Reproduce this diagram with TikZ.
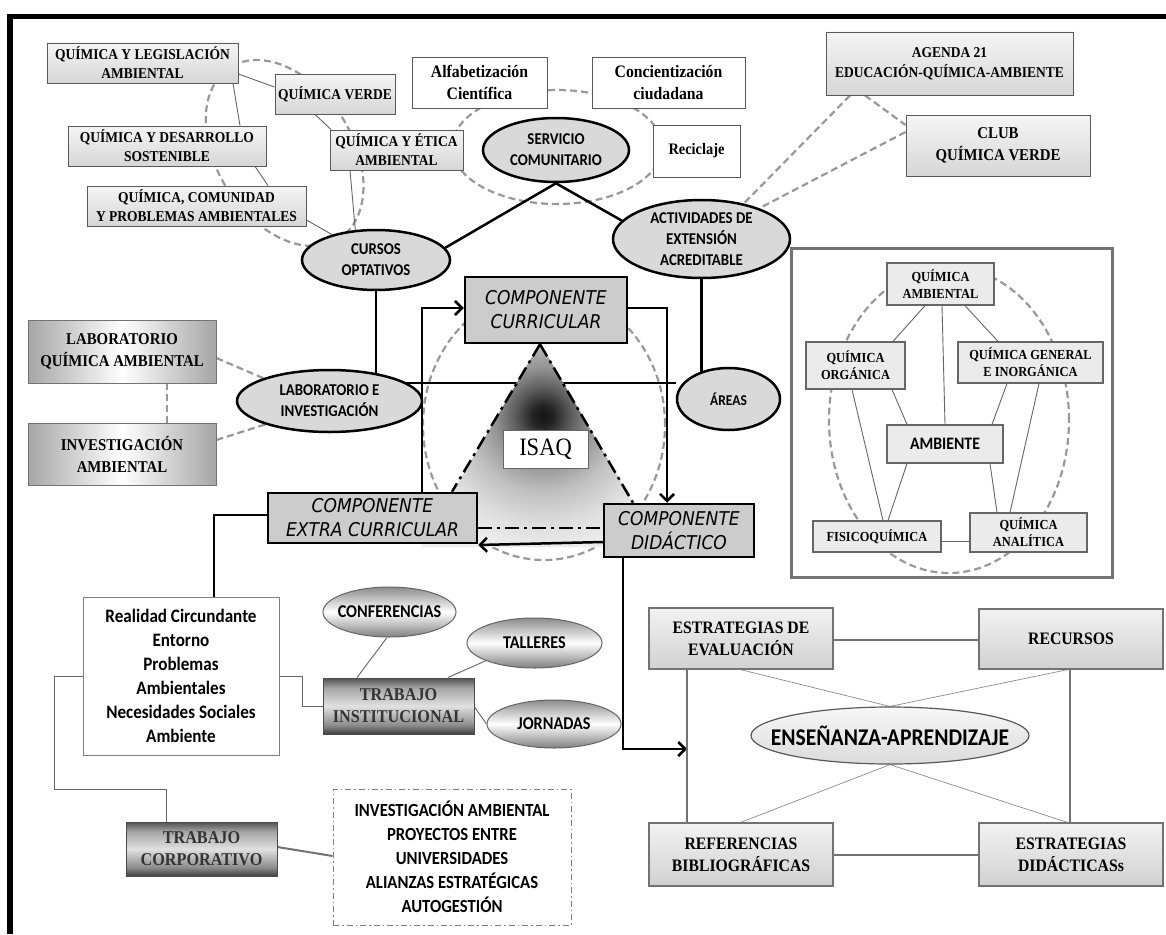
\documentclass[tikz,border=0pt]{standalone}
\usepackage{fontspec}
\setmainfont{Liberation Serif}[FakeStretch=0.9]
\newfontfamily\calib{Carlito}[FakeStretch=0.9]
\newfontfamily\comic{DejaVu Sans}[FakeStretch=0.9]
\usetikzlibrary{shapes.geometric,arrows.meta}
\newcommand\myfs[2]{\fontsize{#1}{#2}\selectfont}
\pgfdeclarelayer{bg}
\pgfsetlayers{bg,main}
\pgfdeclareradialshading{isaqsh}{\pgfpoint{0bp}{0bp}}{color(0bp)=(black!92); color(2bp)=(black!86); color(5bp)=(black!65); color(9bp)=(black!42); color(14bp)=(black!25); color(20bp)=(black!13); color(25bp)=(black!7); color(50bp)=(black!7)}
\pgfdeclareverticalshading{metalv}{100bp}{color(0bp)=(black!75); color(25bp)=(black!75); color(33bp)=(black!45); color(50bp)=(black!12); color(66bp)=(black!35); color(75bp)=(black!68); color(100bp)=(black!68)}
\pgfdeclareverticalshading{ellv}{100bp}{color(0bp)=(black!50); color(25bp)=(black!50); color(50bp)=(white); color(75bp)=(black!45); color(100bp)=(black!45)}
\tikzset{
 every node/.style={inner sep=0pt, align=center},
 lgbox/.style={rectangle, draw=black!65, line width=0.9pt, top color=black!4, bottom color=black!16, font=\bfseries\myfs{15}{19}},
 wbox/.style={rectangle, draw=black!65, line width=0.9pt, fill=white, font=\bfseries\myfs{17.5}{22}},
 sidebox/.style={rectangle, draw=black!55, line width=0.9pt, left color=black!35, right color=black!35, middle color=white, font=\bfseries\myfs{16.5}{22}},
 compbox/.style={rectangle, draw=black, line width=2.5pt, fill=black!20, font=\comic\itshape\myfs{19}{24}},
 mainell/.style={ellipse, draw=black, line width=2.5pt, fill=black!15},
 elltxt/.style={font=\calib\bfseries\myfs{16.5}{21}},
 panbox/.style={rectangle, draw=black!60, line width=1.2pt, fill=black!8, font=\bfseries\myfs{13.8}{17}},
 metalbox/.style={rectangle, draw=black!70, line width=1pt, shade, shading=metalv, font=\bfseries\myfs{18}{22}, text=black!80},
 smell/.style={ellipse, draw=black!60, line width=1pt, shade, shading=ellv},
 smtxt/.style={font=\calib\bfseries\myfs{18}{20}},
 brbox/.style={rectangle, draw=black!55, line width=1.5pt, top color=black!5, bottom color=black!18, font=\bfseries\myfs{17.5}{22}},
 blk/.style={draw=black, line width=2.5pt},
 thinl/.style={draw=black!60, line width=0.9pt},
 xl/.style={draw=black!45, line width=0.7pt},
 dgray/.style={draw=black!40, line width=2.2pt, dash pattern=on 7pt off 4pt},
 gline/.style={draw=black!55, line width=2.5pt},
 arr/.style={-{Straight Barb[length=7pt,width=14pt]}},
 ddline/.style={draw=black, line width=2.5pt, dash pattern=on 14pt off 5pt on 3pt off 5pt},
}
\begin{document}
\begin{tikzpicture}[x=1pt,y=-1pt]
\useasboundingbox (0,0) rectangle (1166,934);

% ---------- top-left cluster
\node[lgbox, minimum width=191pt, minimum height=40pt] (qleg) at (142.5,63) {QUÍMICA Y LEGISLACIÓN\\AMBIENTAL};
\node[lgbox, minimum width=120pt, minimum height=40pt] (qverde) at (335,94) {QUÍMICA VERDE};
\node[lgbox, minimum width=198pt, minimum height=40pt] (qdes) at (167,146) {QUÍMICA Y DESARROLLO\\SOSTENIBLE};
\node[lgbox, minimum width=219pt, minimum height=40pt] (qcom) at (196.5,206) {QUÍMICA, COMUNIDAD\\Y PROBLEMAS AMBIENTALES};
\node[lgbox, minimum width=133pt, minimum height=40pt] (qetica) at (396.5,150) {QUÍMICA Y ÉTICA\\AMBIENTAL};

\node[mainell, minimum width=148pt, minimum height=60pt] (cursos) at (376,260) {};
\node[elltxt] (cursosT) at (cursos) {CURSOS\\OPTATIVOS};
\node[mainell, minimum width=146pt, minimum height=64pt] (servicio) at (556,150) {};
\node[elltxt] (servicioT) at (servicio) {SERVICIO\\COMUNITARIO};
\node[mainell, minimum width=177pt, minimum height=78pt] (act) at (701.5,239) {};
\node[elltxt] (actT) at (act) {ACTIVIDADES DE\\EXTENSIÓN\\ACREDITABLE};

\node[wbox, minimum width=135pt, minimum height=51pt] (alfa) at (479.5,82.5) {Alfabetización\\Científica};
\node[wbox, minimum width=153pt, minimum height=51pt] (conc) at (668.5,82.5) {Concientización\\ciudadana};
\node[wbox, minimum width=87pt, minimum height=52pt, font=\bfseries\myfs{16}{18}] (recic) at (696.5,151) {Reciclaje};

\node[lgbox, minimum width=247pt, minimum height=63pt, font=\bfseries\myfs{15}{20}] (agenda) at (949.5,63.5) {AGENDA 21\\EDUCACIÓN-QUÍMICA-AMBIENTE};
\node[lgbox, minimum width=184pt, minimum height=61pt, font=\bfseries\myfs{16.5}{22}] (club) at (998,145.5) {CLUB\\QUÍMICA VERDE};

% ---------- right panel
\node[draw=black!55, line width=3pt, minimum width=321pt, minimum height=329pt] (panel) at (951.5,412.5) {};
\node[panbox, minimum width=107pt, minimum height=42pt] (qamb) at (940.5,284) {QUÍMICA\\AMBIENTAL};
\node[panbox, minimum width=99pt, minimum height=47pt] (qorg) at (855.5,365.5) {QUÍMICA\\ORGÁNICA};
\node[panbox, minimum width=145pt, minimum height=41pt] (qgen) at (1030.5,362.5) {QUÍMICA GENERAL\\E INORGÁNICA};
\node[panbox, minimum width=116pt, minimum height=38pt, font=\calib\bfseries\myfs{17.5}{19}] (amb) at (945,444) {AMBIENTE};
\node[panbox, minimum width=128pt, minimum height=31pt] (fisico) at (877,536.5) {FISICOQUÍMICA};
\node[panbox, minimum width=117pt, minimum height=39pt] (qanal) at (1028.5,532.5) {QUÍMICA\\ANALÍTICA};

% ---------- left middle
\node[sidebox, minimum width=188pt, minimum height=63pt] (labqa) at (122,351.5) {LABORATORIO\\QUÍMICA AMBIENTAL};
\node[sidebox, minimum width=188pt, minimum height=62pt] (invamb) at (122,454) {INVESTIGACIÓN\\AMBIENTAL};
\node[mainell, minimum width=185pt, minimum height=62pt] (labinv) at (329.5,401) {};
\node[elltxt] (labinvT) at (labinv) {LABORATORIO E\\INVESTIGACIÓN};
\node[mainell, minimum width=103pt, minimum height=62pt] (areas) at (728.5,399) {};
\node[elltxt, font=\calib\bfseries\myfs{15}{17}] (areasT) at (areas) {ÁREAS};

% ---------- components
\node[compbox, minimum width=162pt, minimum height=66pt] (compcur) at (546,310) {COMPONENTE\\CURRICULAR};
\node[compbox, minimum width=209pt, minimum height=50pt] (compextra) at (372.5,518) {COMPONENTE\\EXTRA CURRICULAR};
\node[compbox, minimum width=150pt, minimum height=53pt] (compdid) at (679,530.5) {COMPONENTE\\DIDÁCTICO};
\node[draw=black!60, line width=1pt, fill=white, minimum width=85pt, minimum height=38pt, font=\myfs{25}{27}] (isaq) at (545.5,449) {ISAQ};

% ---------- bottom left
\node[draw=black!50, line width=0.9pt, fill=white, minimum width=196pt, minimum height=158pt, font=\calib\bfseries\myfs{19}{24}] (realidad) at (181,676) {Realidad Circundante\\Entorno\\Problemas\\Ambientales\\Necesidades Sociales\\Ambiente};
\node[metalbox, minimum width=151pt, minimum height=56pt] (trabinst) at (398.5,706) {TRABAJO\\INSTITUCIONAL};
\node[smell, minimum width=133pt, minimum height=50pt] (confer) at (389.5,612) {};
\node[smtxt] (conferT) at (confer) {CONFERENCIAS};
\node[smell, minimum width=135pt, minimum height=50pt] (talleres) at (534.5,643) {};
\node[smtxt] (talleresT) at (talleres) {TALLERES};
\node[smell, minimum width=134pt, minimum height=48pt] (jornadas) at (554,724) {};
\node[smtxt] (jornadasT) at (jornadas) {JORNADAS};
\node[metalbox, minimum width=151pt, minimum height=54pt] (trabcorp) at (201.5,849) {TRABAJO\\CORPORATIVO};
\node[draw=black!50, line width=0.9pt, dash pattern=on 6pt off 3pt on 1.5pt off 3pt, minimum width=238pt, minimum height=136pt, font=\calib\bfseries\myfs{18.5}{24}] (dashbox) at (452,857) {INVESTIGACIÓN AMBIENTAL\\PROYECTOS ENTRE\\UNIVERSIDADES\\ALIANZAS ESTRATÉGICAS\\AUTOGESTIÓN};

% ---------- bottom right
\node[brbox, minimum width=184pt, minimum height=61pt] (evalb) at (741,638.5) {ESTRATEGIAS DE\\EVALUACIÓN};
\node[brbox, minimum width=184pt, minimum height=60pt] (recursos) at (1071,639) {RECURSOS};
\node[brbox, minimum width=184pt, minimum height=63pt] (refs) at (741,854.5) {REFERENCIAS\\BIBLIOGRÁFICAS};
\node[brbox, minimum width=184pt, minimum height=63pt] (estdid) at (1071,854.5) {ESTRATEGIAS\\DIDÁCTICASs};
\node[ellipse, draw=black!65, line width=1.2pt, top color=black!3, bottom color=black!14, minimum width=278pt, minimum height=57pt] (ensap) at (890,735.5) {};
\node[font=\calib\bfseries\myfs{24}{26}] (ensapT) at (ensap) {ENSEÑANZA-APRENDIZAJE};
\coordinate (arrEnd) at (687,749);

% ---------- background layer: dashed groups, connectors, triangle
\begin{pgfonlayer}{bg}
\fill[white] (0,0) rectangle (1166,934);
\draw[dgray, shift={(284.6,153)}, xslant=-0.3] (0,0) ellipse (73.8pt and 93pt);
\draw[dgray] (557,147) ellipse (105pt and 57pt);
\draw[dgray] (949,420) ellipse (120pt and 153pt);
\draw[dgray] (544,425) ellipse (121pt and 135pt);

% top-left thin
\draw[thinl] (qleg.east |- 0,74) -- (qverde.west |- 0,87);
\draw[thinl] (qleg.south -| 233,0) -- (qdes.north -| 240,0);
\draw[thinl] (qverde.south -| 315,0) -- (qetica.north -| 331,0);
\draw[thinl] (qetica.south -| 350,0) -- (cursos.center -| 358,0);
\draw[thinl] (qdes.south -| 255,0) -- (qcom.north -| 268,0);
\draw[thinl] (qcom.east |- 0,220) -- (cursos.150);

% thick black
\draw[blk] (servicio.south) -- (cursos.10);
\draw[blk] (servicio.south) -- (act.167);
\draw[blk] (cursos.south) |- (areas.west |- 0,383);
\draw[blk] (act.south) -- (act.south |- areas.center);
\draw[blk, arr] (compextra.north -| 422,0) |- (compcur.west |- 0,308);
\draw[blk, arr] (compcur.east |- 0,308) -| (compdid.north -| 667,0);
\draw[blk] (compextra.west |- 0,515) -| (realidad.north -| 214,0);
\draw[blk, arr] (compdid.south -| 623,0) |- (arrEnd);

% dashed connectors
\draw[dgray] (labqa.east |- 0,358) -- (labinv.161);
\draw[dgray] (invamb.east |- 0,440) -- (labinv.200);
\draw[dgray] (labqa.south -| 167,0) -- (invamb.north -| 167,0);
\draw[dgray] (agenda.south -| 850,0) -- (act.40);
\draw[dgray] (club.west |- 0,132) -- (act.28);
\draw[dgray] (agenda.south -| 865,0) -- (club.west |- 0,125);

% right panel thin
\draw[thinl] (qamb.south -| 925,0) -- (qorg.north -| 893,0);
\draw[thinl] (qamb.south -| 942,0) -- (amb.north -| 945,0);
\draw[thinl] (qamb.south -| 965,0) -- (qgen.north -| 998,0);
\draw[thinl] (qorg.south -| 892,0) -- (amb.north -| 907,0);
\draw[thinl] (qorg.south -| 852,0) -- (fisico.north -| 883,0);
\draw[thinl] (qgen.south -| 1007,0) -- (amb.north -| 992,0);
\draw[thinl] (qgen.south -| 1039,0) -- (qanal.north -| 1010,0);
\draw[thinl] (amb.south -| 907,0) -- (fisico.north -| 888,0);
\draw[thinl] (amb.south -| 990,0) -- (qanal.north -| 997,0);
\draw[thinl] (fisico.east |- 0,541) -- (qanal.west |- 0,541);

% bottom-left thin
\draw[thinl] (realidad.east |- 0,676) -- ++(23,0) |- (trabinst.west);
\draw[thinl] (confer.south -| 387,0) -- (trabinst.north -| 357,0);
\draw[thinl] (talleres.200) -- (trabinst.north -| 448,0);
\draw[thinl] (trabinst.east |- 0,707) -- (jornadas.west);
\draw[thinl] (realidad.west |- 0,676) -- ++(-28,0) -- ++(0,113) -| (trabcorp.north -| 166,0);
\draw[gline, line width=2pt] (trabcorp.east |- 0,847) -- (dashbox.west |- 0,856);

% bottom-right
\draw[gline] (evalb.east |- 0,640) -- (recursos.west |- 0,640);
\draw[gline] (refs.east |- 0,855) -- (estdid.west |- 0,855);
\draw[gline] (evalb.south -| 687,0) -- (refs.north -| 687,0);
\draw[gline] (recursos.south -| 1070,0) -- (estdid.north -| 1070,0);
\draw[xl] (evalb.south) -- (ensap.north);
\draw[xl] (recursos.south -| 1067,0) -- (ensap.north);
\draw[xl] (ensap.south) -- (refs.north);
\draw[xl] (ensap.south) -- (estdid.north -| 1067,0);

% ISAQ triangle
\fill[black!7] (540,343) -- (421,547) -- (659,547) -- cycle;
\begin{scope}
\clip (540,343) -- (421,547) -- (659,547) -- cycle;
\shade[shading=isaqsh] (543,416) circle (135pt);
\end{scope}
\draw[ddline] (compcur.south -| 540,0) -- (compextra.north -| 452,0);
\draw[ddline] (compcur.south -| 540,0) -- (compdid.north -| 633,0);
\draw[ddline] (compextra.east |- 0,528) -- (compdid.west |- 0,528);
\draw[blk, arr] (compdid.west |- 0,542) -- (compextra.east |- 0,545);
\end{pgfonlayer}

% frame
\draw[line width=5.5pt, line join=miter] (10,934) -- (10,16.5) -- (1166,16.5);
\end{tikzpicture}
\end{document}
